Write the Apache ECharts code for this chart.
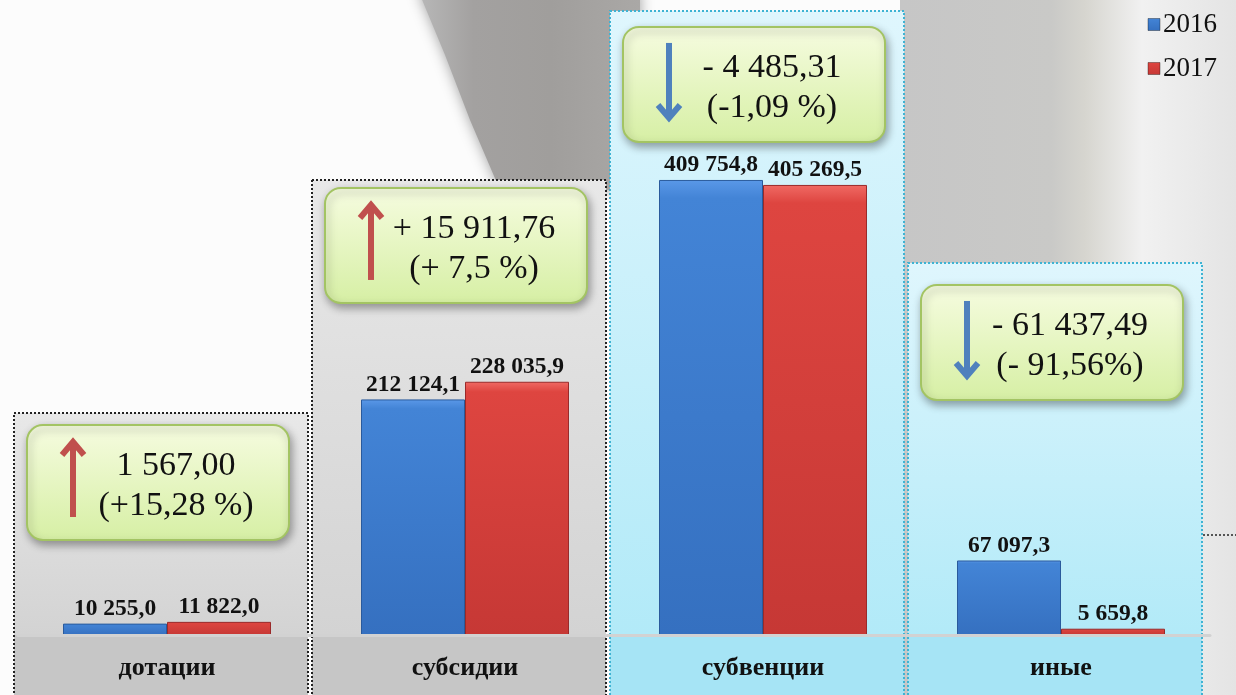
<!DOCTYPE html>
<html><head><meta charset="utf-8">
<script src="https://cdn.jsdelivr.net/npm/echarts@6/dist/echarts.min.js"></script>
<style>html,body{margin:0;padding:0;background:#fcfcfc}#c{width:1236px;height:695px}</style>
</head><body><div id="c"></div>
<script>
// ---- data ----
const categories = ['дотации', 'субсидии', 'субвенции', 'иные'];
const years = ['2016', '2017'];
const values2016 = [10255.0, 212124.1, 409754.8, 67097.3];
const values2017 = [11822.0, 228035.9, 405269.5, 5659.8];
const changeValues = ['1 567,00', '+ 15 911,76', '- 4 485,31', '- 61 437,49'];
const changePercents = ['(+15,28 %)', '(+ 7,5 %)', '(-1,09 %)', '(- 91,56%)'];
const changeUp = [true, true, false, false];

// ---- layout (decoration placement, in value units) ----
const panelTop = [199900, 409750, 561950, 335000];
const calloutTop = [189100, 402550, 547540, 315200];
const panelKind = ['grey', 'grey', 'cyan', 'cyan'];

const SERIF = '"Liberation Serif","Times New Roman",serif';
function fmt(v) {
  const p = v.toFixed(1).split('.');
  return p[0].replace(/\B(?=(\d{3})+(?!\d))/g, ' ') + ',' + p[1];
}
const G = echarts.graphic;

const chart = echarts.init(document.getElementById('c'));
chart.setOption({
  backgroundColor: '#fcfcfc',
  animation: false,
  graphic: [
    // soft photo-like background shapes
    {type: 'polygon', z: -10, silent: true,
     shape: {points: [[418, -10], [640, -10], [640, 190], [500, 190], [470, 120], [445, 55]], smooth: 0},
     style: {fill: new G.LinearGradient(0, 0, 1, 0, [
       {offset: 0, color: '#b8b8b8'}, {offset: 0.25, color: '#a3a1a0'}, {offset: 0.6, color: '#a09e9c'},
       {offset: 1, color: '#aaa8a6'}]),
       shadowBlur: 14, shadowColor: 'rgba(150,150,150,0.9)'}},
    {type: 'rect', z: -10, silent: true,
     shape: {x: 900, y: 0, width: 336, height: 695},
     style: {fill: new G.LinearGradient(0, 0, 1, 0, [
       {offset: 0, color: '#c6c6c6'}, {offset: 0.45, color: '#c9c9c7'}, {offset: 0.55, color: '#d6d5cf'},
       {offset: 0.72, color: '#f1f1f1'}, {offset: 1, color: '#e4e4e4'}])}},
    {type: 'line', z: 10, shape: {x1: 1203, y1: 535, x2: 1236, y2: 535},
     style: {stroke: '#555', lineWidth: 2, lineDash: [2, 2]}}
  ],
  legend: {
    data: years, orient: 'vertical', right: 14, top: 6, itemGap: 17,
    icon: 'rect', itemWidth: 12, itemHeight: 12, itemStyle: {borderColor: 'rgba(0,0,0,0.35)', borderWidth: 1},
    textStyle: {fontFamily: SERIF, fontSize: 27, color: '#111', padding: [0, 0, 0, -2]}
  },
  grid: {left: 18, right: 26, top: 2, bottom: 60},
  xAxis: {
    type: 'category', data: categories, z: 5,
    axisLine: {lineStyle: {color: '#d2d2d2', width: 3}},
    axisTick: {show: false},
    axisLabel: {fontFamily: SERIF, fontSize: 26, fontWeight: 'bold', color: '#111', margin: 20}
  },
  yAxis: {type: 'value', min: 0, max: 570000, show: false, splitLine: {show: false}},
  series: [
    {
      type: 'custom', name: 'panels', z: 1, clip: false, silent: true,
      data: categories.map((c, i) => [i, panelTop[i]]),
      renderItem: function (params, api) {
        const i = api.value(0);
        const top = api.coord([i, api.value(1)]);
        const base = api.coord([i, 0]);
        const bw = api.size([1, 0])[0];
        const x = top[0] - bw / 2 - 4, w = bw - 4;
        const H = api.getHeight();
        const cyan = panelKind[params.dataIndex] === 'cyan';
        const fillTop = cyan ? new G.LinearGradient(0, 0, 0, 1, [{offset: 0, color: '#dff6fd'}, {offset: 1, color: '#b2eaf8'}])
                             : new G.LinearGradient(0, 0, 0, 1, [{offset: 0, color: '#e8e8e8'}, {offset: 1, color: '#d3d3d3'}]);
        const fillBot = cyan ? '#a6e4f5' : '#c6c6c6';
        const stroke = cyan ? '#3eb3d3' : '#222';
        return {type: 'group', children: [
          {type: 'rect', shape: {x: x, y: top[1], width: w, height: base[1] - top[1]}, style: {fill: fillTop}},
          {type: 'rect', shape: {x: x, y: base[1], width: w, height: H - base[1] + 4}, style: {fill: fillBot}},
          {type: 'rect', shape: {x: x, y: top[1], width: w, height: H - top[1] + 6},
           style: {fill: 'none', stroke: stroke, lineWidth: 2, lineDash: [2, 2]}}
        ]};
      }
    },
    {
      name: years[0], type: 'bar', z: 3, barWidth: 104, barGap: '0%',
      data: values2016,
      itemStyle: {
        color: new G.LinearGradient(0, 0, 0, 1, [{offset: 0, color: '#5a98e8'}, {offset: 0.04, color: '#4384d6'}, {offset: 1, color: '#3570c0'}]),
        borderColor: '#2a5a9c', borderWidth: 1
      },
      label: {show: true, position: 'top', distance: 3, formatter: p => fmt(p.value),
        fontFamily: SERIF, fontSize: 23.5, fontWeight: 'bold', color: '#111'}
    },
    {
      name: years[1], type: 'bar', z: 3, barWidth: 104,
      data: values2017,
      itemStyle: {
        color: new G.LinearGradient(0, 0, 0, 1, [{offset: 0, color: '#f06a64'}, {offset: 0.04, color: '#de4540'}, {offset: 1, color: '#c63835'}]),
        borderColor: '#9a2a2a', borderWidth: 1
      },
      label: {show: true, position: 'top', distance: 3, formatter: p => fmt(p.value),
        fontFamily: SERIF, fontSize: 23.5, fontWeight: 'bold', color: '#111'}
    },
    {
      type: 'custom', name: 'callouts', z: 6, clip: false, silent: true,
      data: categories.map((c, i) => [i, calloutTop[i]]),
      renderItem: function (params, api) {
        const k = params.dataIndex;
        const i = api.value(0);
        const p = api.coord([i, api.value(1)]);
        const bx = p[0] - 140, by = p[1], bw = 262, bh = 115;
        const up = changeUp[k];
        const ac = up ? '#c0504d' : '#4f81bd';
        const ax = bx + 46, y0 = by + 16, y1 = by + 92;
        const shaft = up ? [[ax, y1], [ax, y0 + 3]] : [[ax, y0], [ax, y1 - 3]];
        const head = up ? [[ax - 11, y0 + 14], [ax, y0 + 1], [ax + 11, y0 + 14]]
                        : [[ax - 11, y1 - 14], [ax, y1 - 1], [ax + 11, y1 - 14]];
        return {type: 'group', children: [
          {type: 'rect', shape: {x: bx, y: by, width: bw, height: bh, r: 16},
           style: {fill: new G.LinearGradient(0, 0, 0, 1, [{offset: 0, color: '#f6fce0'}, {offset: 1, color: '#d6efa4'}]),
                   stroke: '#a3c463', lineWidth: 2, shadowBlur: 8, shadowColor: 'rgba(0,0,0,0.35)', shadowOffsetX: 2, shadowOffsetY: 4}},
          {type: 'polyline', shape: {points: shaft}, style: {stroke: ac, lineWidth: 6, fill: 'none'}},
          {type: 'polyline', shape: {points: head}, style: {stroke: ac, lineWidth: 6, fill: 'none', lineJoin: 'miter'}},
          {type: 'text', style: {text: changeValues[k], x: bx + 149, y: by + 41, align: 'center', verticalAlign: 'middle',
            fontFamily: SERIF, fontSize: 34, fill: '#111'}},
          {type: 'text', style: {text: changePercents[k], x: bx + 149, y: by + 81, align: 'center', verticalAlign: 'middle',
            fontFamily: SERIF, fontSize: 34, fill: '#111'}}
        ]};
      }
    }
  ]
});
</script></body></html>
